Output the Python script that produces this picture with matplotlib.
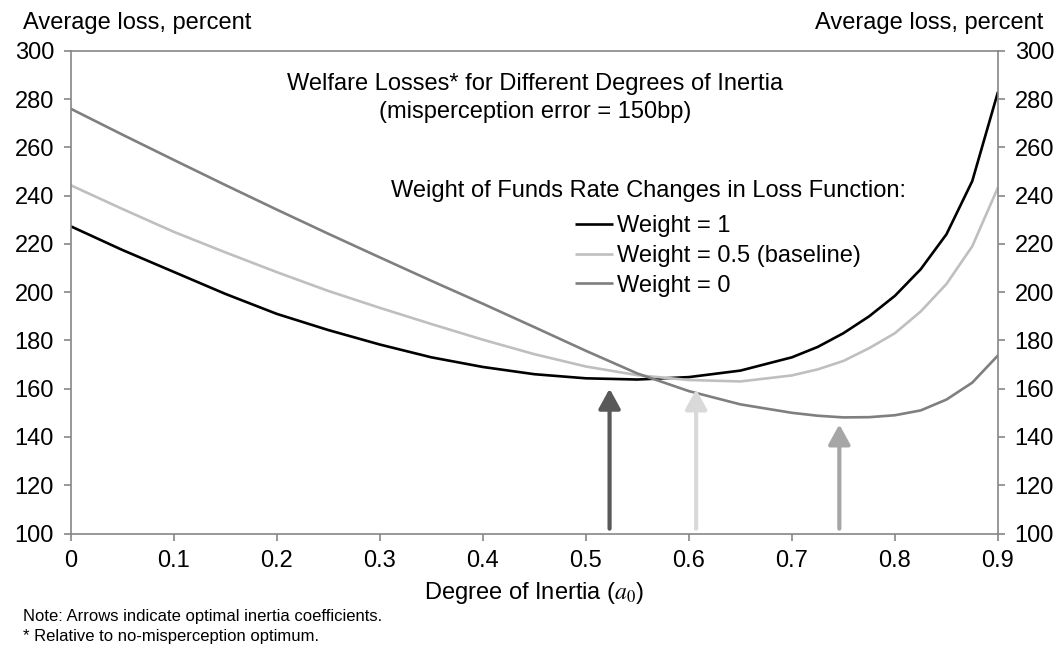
import matplotlib
matplotlib.use('Agg')
import matplotlib.pyplot as plt

# readings from the chart
inertia = [0.0, 0.05, 0.1, 0.15, 0.2, 0.25, 0.3, 0.35, 0.4, 0.45, 0.5, 0.55,
           0.6, 0.65, 0.7, 0.725, 0.75, 0.775, 0.8, 0.825, 0.85, 0.875, 0.9]
loss_w1 = [227.3, 217.5, 208.4, 199.3, 191.0, 184.3, 178.3, 173.0, 169.0, 166.0, 164.3, 163.8,
           164.8, 167.5, 173.0, 177.3, 183.0, 190.0, 198.5, 209.5, 224.0, 246.0, 283.0]
loss_w05 = [244.3, 234.5, 225.0, 216.5, 208.3, 200.5, 193.5, 186.8, 180.3, 174.3, 169.2, 165.6,
            163.6, 163.0, 165.5, 168.0, 171.5, 176.8, 183.0, 192.0, 203.4, 219.0, 243.4]
loss_w0 = [276.0, 265.3, 254.8, 244.4, 234.2, 224.2, 214.4, 204.7, 195.2, 185.5, 175.7, 166.3,
           159.0, 153.5, 150.0, 148.8, 148.1, 148.2, 149.0, 151.0, 155.5, 162.5, 173.8]
labels = ['Weight = 1', 'Weight = 0.5 (baseline)', 'Weight = 0']

# optimal inertia (arrow positions and tip heights)
opt_x = [0.523, 0.607, 0.746]
opt_tip = [160.0, 159.7, 145.2]

plt.rcParams['font.family'] = ['Liberation Sans', 'DejaVu Sans']
plt.rcParams['mathtext.fontset'] = 'stix'

W, H = 1058, 648
fig = plt.figure(figsize=(W / 100, H / 100), dpi=100)
ax = fig.add_axes([70.7 / W, 1 - 533.5 / H, (998 - 70.7) / W, (533.5 - 50.8) / H])

line_colors = ['#000000', '#bfbfbf', '#7f7f7f']
series = [loss_w1, loss_w05, loss_w0]
for vals, c, lab in zip(series, line_colors, labels):
    ax.plot(inertia, vals, color=c, lw=1.9, label=lab, solid_capstyle='butt',
            solid_joinstyle='round')

arrow_colors = ['#595959', '#d9d9d9', '#a6a6a6']
for xa, tip, c in zip(opt_x, opt_tip, arrow_colors):
    ax.annotate('', xy=(xa, tip), xytext=(xa, 102),
                arrowprops=dict(arrowstyle='-|>,head_length=0.6,head_width=0.33',
                                color=c, lw=3, mutation_scale=20,
                                shrinkA=0, shrinkB=0))

ax.set_xlim(0, 0.9)
ax.set_ylim(100, 300)
ax.set_xticks([0, 0.1, 0.2, 0.3, 0.4, 0.5, 0.6, 0.7, 0.8, 0.9])
ax.set_xticklabels(['0', '0.1', '0.2', '0.3', '0.4', '0.5', '0.6', '0.7', '0.8', '0.9'])
ax.set_yticks(range(100, 301, 20))
for s in ax.spines.values():
    s.set_color('#868686')
    s.set_linewidth(1.2)
ax.tick_params(axis='both', which='both', direction='out', length=5, width=1.2,
               color='#868686', labelsize=17, pad=7)
ax.tick_params(axis='y', right=True, labelright=True)
ax.set_xlabel('Degree of Inertia ($a_0$)', fontsize=17, labelpad=6)

def ftext(x, y, s, **kw):
    fig.text(x / W, 1 - y / H, s, va='center', **kw)

ftext(22.7, 22.7, 'Average loss, percent', ha='left', fontsize=17)
ftext(1043, 22.7, 'Average loss, percent', ha='right', fontsize=17)
ftext(535, 84, 'Welfare Losses* for Different Degrees of Inertia', ha='center', fontsize=17)
ftext(535, 111.7, '(misperception error = 150bp)', ha='center', fontsize=17)
ftext(648.5, 191, 'Weight of Funds Rate Changes in Loss Function:', ha='center', fontsize=17)
ftext(22.7, 616.7, 'Note: Arrows indicate optimal inertia coefficients.', ha='left', fontsize=12)
ftext(22.7, 637, '* Relative to no-misperception optimum.', ha='left', fontsize=12)

ax.legend(loc='upper left', bbox_to_anchor=(575 / W, 1 - 215 / H), bbox_transform=fig.transFigure,
          frameon=False, fontsize=17, handlelength=1.6, handletextpad=0.17,
          labelspacing=0.33, borderpad=0, borderaxespad=0)

fig.savefig('out.png', dpi=100)
